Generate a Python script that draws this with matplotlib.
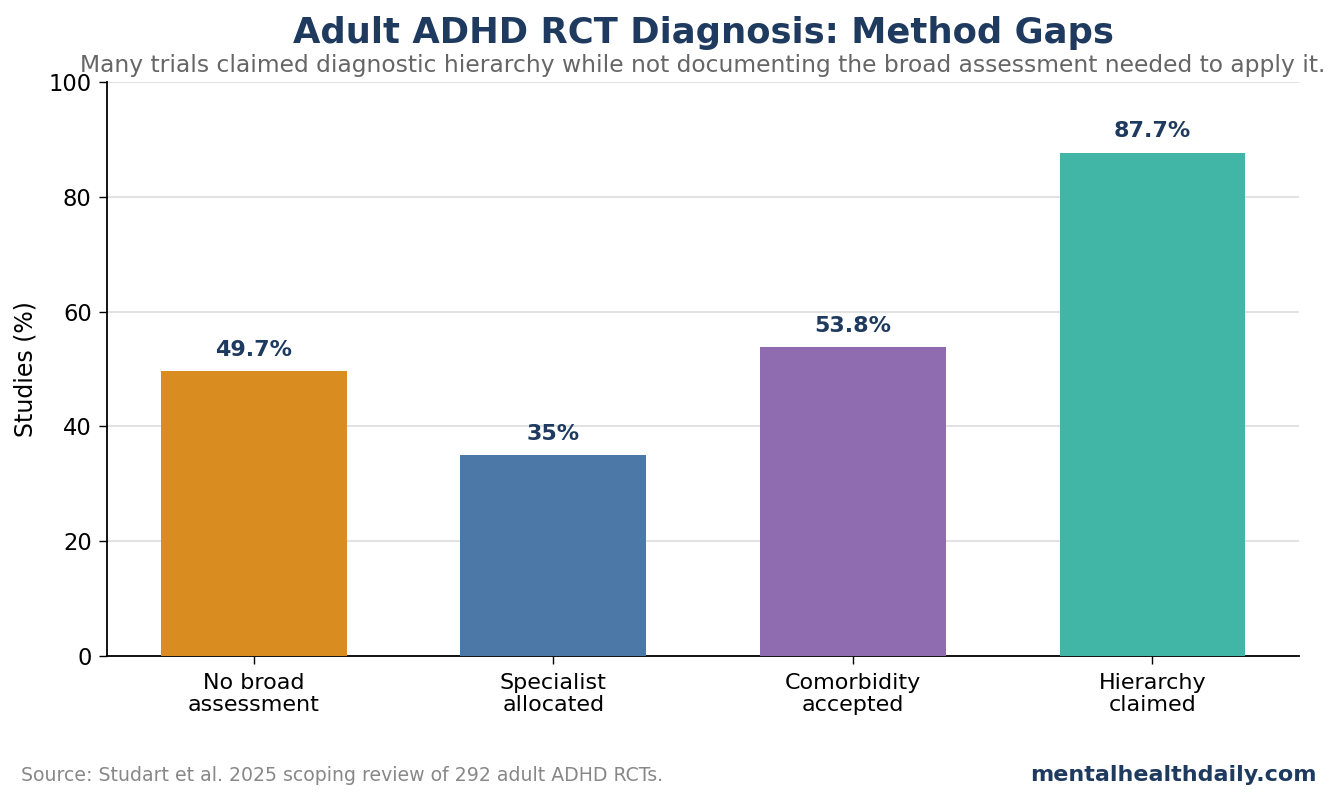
import matplotlib
matplotlib.use("Agg")
import matplotlib.pyplot as plt

categories = ["No broad\nassessment", "Specialist\nallocated", "Comorbidity\naccepted", "Hierarchy\nclaimed"]
values = [49.7, 35, 53.8, 87.7]
value_labels = ["49.7%", "35%", "53.8%", "87.7%"]
colors = ["#D98C20", "#4C78A8", "#8F6BAF", "#41B5A6"]
yticks = [0, 20, 40, 60, 80, 100]

navy = "#1F3A5F"

fig = plt.figure(figsize=(13.41, 8), dpi=100)
ax = fig.add_axes([0.0798, 0.18, 0.889, 0.7175])

x = list(range(len(categories)))
ax.bar(x, values, width=0.62, color=colors, zorder=3)
for xi, v, lab in zip(x, values, value_labels):
    ax.annotate(lab, (xi, v), xytext=(0, 8), textcoords="offset points",
                ha="center", va="bottom", fontsize=16, fontweight="bold", color=navy)

ax.set_xlim(-0.49, 3.49)
ax.set_ylim(0, 100)
ax.set_yticks(yticks)
ax.set_xticks(x)
ax.set_xticklabels(categories, fontsize=16, linespacing=1.15)
ax.tick_params(axis="y", labelsize=16.3, length=6, width=1, pad=5)
ax.tick_params(axis="x", length=6, width=1, pad=6)
ax.grid(axis="y", color="#DDDDDD", linewidth=1.2, zorder=0)
ax.spines["top"].set_visible(False)
ax.spines["right"].set_visible(False)
ax.spines["left"].set_linewidth(1.3)
ax.spines["bottom"].set_linewidth(1.3)
ax.set_ylabel("Studies (%)", fontsize=17, labelpad=8)

cx = 0.0798 + 0.889 / 2
fig.text(cx, 0.959, "Adult ADHD RCT Diagnosis: Method Gaps", ha="center", va="center",
         fontsize=25.5, fontweight="bold", color=navy)
fig.text(cx, 0.918, "Many trials claimed diagnostic hierarchy while not documenting the broad assessment needed to apply it.",
         ha="center", va="center", fontsize=16.8, color="#666666")
fig.text(0.0157, 0.031, "Source: Studart et al. 2025 scoping review of 292 adult ADHD RCTs.",
         ha="left", va="center", fontsize=13.6, color="#888888")
fig.text(0.9815, 0.031, "mentalhealthdaily.com", ha="right", va="center",
         fontsize=16, fontweight="bold", color=navy)

fig.savefig("out.png", dpi=100)
